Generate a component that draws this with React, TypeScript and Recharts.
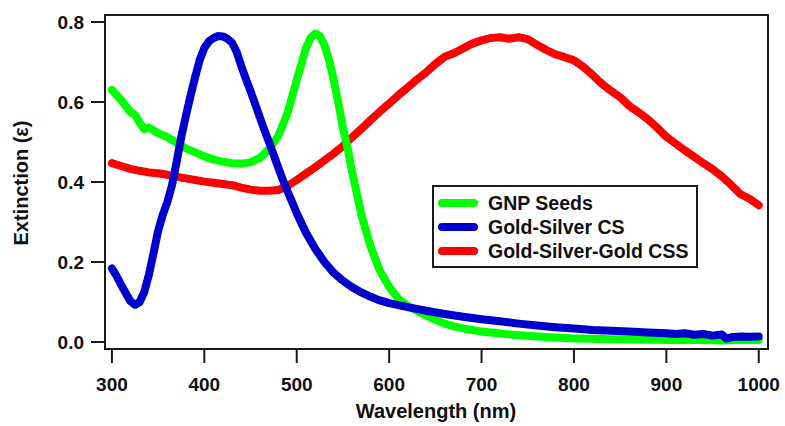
import React from "react";
import {
  LineChart,
  Line,
  XAxis,
  YAxis,
  Legend,
  ReferenceArea,
  Label,
} from "recharts";

// ---- data ----
const gnpWavelengths = [
  300, 310, 320, 325, 330, 335, 340, 350, 360, 370, 380, 390, 400, 410, 420, 430, 440, 450, 460, 470,
  480, 490, 500, 510, 515, 520, 525, 530, 535, 540, 545, 550, 555, 560, 570, 580, 590, 600, 610, 620,
  630, 640, 650, 660, 670, 680, 690, 700, 720, 740, 760, 780, 800, 820, 840, 860, 880, 900, 920, 940,
  960, 980, 1000,
];
const gnpValues = [
  0.63, 0.605, 0.575, 0.568, 0.548, 0.532, 0.536, 0.522, 0.512, 0.498, 0.484, 0.474, 0.464, 0.456, 0.451,
  0.447, 0.446, 0.449, 0.46, 0.482, 0.515, 0.572, 0.655, 0.735, 0.76, 0.771, 0.765, 0.742, 0.705, 0.655,
  0.598, 0.535, 0.485, 0.425, 0.318, 0.238, 0.178, 0.138, 0.108, 0.09, 0.078, 0.066, 0.056, 0.046, 0.039,
  0.034, 0.03, 0.026, 0.021, 0.017, 0.014, 0.011, 0.009, 0.008, 0.007, 0.006, 0.006, 0.005, 0.005, 0.005,
  0.004, 0.005, 0.005,
];

const csWavelengths = [
  300, 305, 310, 315, 320, 325, 330, 335, 340, 345, 350, 355, 360, 365, 370, 375, 380, 385, 390, 395,
  400, 405, 410, 415, 420, 425, 430, 435, 440, 445, 450, 455, 460, 465, 470, 475, 480, 485, 490, 495,
  500, 510, 520, 530, 540, 550, 560, 570, 580, 590, 600, 620, 640, 660, 680, 700, 720, 740, 760, 780,
  800, 820, 840, 860, 880, 900, 910, 920, 930, 940, 950, 960, 965, 970, 980, 990, 1000,
];
const csValues = [
  0.184, 0.165, 0.143, 0.122, 0.102, 0.093, 0.1, 0.125, 0.168, 0.222, 0.278, 0.318, 0.35, 0.392, 0.45,
  0.512, 0.565, 0.615, 0.662, 0.705, 0.735, 0.752, 0.76, 0.765, 0.764, 0.758, 0.748, 0.725, 0.69, 0.658,
  0.627, 0.595, 0.562, 0.53, 0.5, 0.468, 0.436, 0.405, 0.377, 0.35, 0.322, 0.273, 0.233, 0.2, 0.173,
  0.153, 0.137, 0.124, 0.113, 0.104, 0.097, 0.087, 0.078, 0.07, 0.063, 0.057, 0.052, 0.046, 0.041, 0.037,
  0.034, 0.03, 0.028, 0.026, 0.024, 0.022, 0.02, 0.022, 0.018, 0.02, 0.016, 0.019, 0.008, 0.012, 0.014,
  0.013, 0.014,
];

const cssWavelengths = [
  300, 310, 320, 330, 340, 350, 360, 370, 380, 390, 400, 410, 420, 430, 440, 450, 460, 470, 480, 490,
  500, 510, 520, 530, 540, 550, 560, 570, 580, 590, 600, 610, 620, 630, 640, 650, 660, 670, 680, 690,
  700, 710, 720, 730, 740, 750, 760, 770, 780, 790, 800, 810, 820, 830, 840, 850, 860, 870, 880, 890,
  900, 910, 920, 930, 940, 950, 960, 970, 980, 990, 1000,
];
const cssValues = [
  0.447, 0.44, 0.433, 0.428, 0.424, 0.422, 0.418, 0.413, 0.409, 0.405, 0.401, 0.398, 0.395, 0.392, 0.386,
  0.381, 0.378, 0.378, 0.38, 0.39, 0.405, 0.421, 0.437, 0.454, 0.471, 0.49, 0.512, 0.533, 0.555, 0.576,
  0.596, 0.617, 0.636, 0.656, 0.674, 0.695, 0.713, 0.722, 0.734, 0.746, 0.754, 0.76, 0.762, 0.758, 0.762,
  0.757, 0.743, 0.73, 0.719, 0.712, 0.704, 0.688, 0.668, 0.646, 0.628, 0.612, 0.59, 0.574, 0.557, 0.536,
  0.513, 0.496, 0.479, 0.463, 0.447, 0.432, 0.414, 0.393, 0.37, 0.358, 0.342,
];

const xTicks = [300, 400, 500, 600, 700, 800, 900, 1000];
const yTicks = [0, 0.2, 0.4, 0.6, 0.8];
const xDomain = [292.5, 1010];
const yDomain = [-0.0175, 0.8175];

const series = [
  { name: "GNP Seeds", color: "#00ff00" },
  { name: "Gold-Silver CS", color: "#0000cc" },
  { name: "Gold-Silver-Gold CSS", color: "#ff0000" },
];

const zip = (xs: number[], ys: number[]) => xs.map((x, i) => ({ x, y: ys[i] }));
const gnpData = zip(gnpWavelengths, gnpValues);
const csData = zip(csWavelengths, csValues);
const cssData = zip(cssWavelengths, cssValues);

const FONT = '"Liberation Sans", Arial, Helvetica, sans-serif';
const INK = "#1a1a1a";

const LegendBox = () => (
  <div
    style={{
      border: `2px solid ${INK}`,
      background: "#fff",
      boxSizing: "border-box",
      width: 266,
      height: 83,
      padding: "4px 0 0 4px",
      fontFamily: FONT,
      fontWeight: 700,
      fontSize: 19.5,
      color: "#111",
    }}
  >
    {series.map((s) => (
      <div key={s.name} style={{ display: "flex", alignItems: "center", height: 24 }}>
        <span
          style={{
            display: "inline-block",
            width: 40,
            height: 8,
            borderRadius: 4,
            background: s.color,
            marginRight: 10,
          }}
        />
        <span>{s.name}</span>
      </div>
    ))}
  </div>
);

export default function App() {
  return (
    <div style={{ position: "absolute", left: 0, top: 0, background: "#fff" }}>
      <LineChart
        width={785}
        height={426}
        margin={{ top: 15, right: 17, left: 0, bottom: 0 }}
        style={{ fontFamily: FONT }}
      >
        <XAxis
          dataKey="x"
          type="number"
          domain={xDomain}
          ticks={xTicks}
          allowDataOverflow
          height={77}
          tickSize={14}
          tickMargin={15}
          axisLine={{ stroke: INK, strokeWidth: 2 }}
          tickLine={{ stroke: INK, strokeWidth: 2 }}
          tick={{ fill: "#111", fontSize: 19, fontWeight: 700, fontFamily: FONT }}
        >
          <Label
            content={() => (
              <text
                x={436}
                y={418}
                textAnchor="middle"
                fill="#111"
                fontSize={20}
                fontWeight={700}
                fontFamily={FONT}
              >
                Wavelength (nm)
              </text>
            )}
          />
        </XAxis>
        <YAxis
          type="number"
          domain={yDomain}
          ticks={yTicks}
          allowDataOverflow
          width={105}
          tickSize={14}
          tickMargin={7}
          tickFormatter={(v: number) => v.toFixed(1)}
          axisLine={{ stroke: INK, strokeWidth: 2 }}
          tickLine={{ stroke: INK, strokeWidth: 2 }}
          tick={{ fill: "#111", fontSize: 19, fontWeight: 700, fontFamily: FONT }}
        >
          <Label
            content={() => (
              <text
                x={28}
                y={183}
                transform="rotate(-90 28 183)"
                textAnchor="middle"
                fill="#111"
                fontSize={20}
                fontWeight={700}
                fontFamily={FONT}
              >
                Extinction (ε)
              </text>
            )}
          />
        </YAxis>
        <ReferenceArea
          x1={xDomain[0]}
          x2={xDomain[1]}
          y1={yDomain[0]}
          y2={yDomain[1]}
          fill="none"
          fillOpacity={0}
          stroke={INK}
          strokeWidth={2}
          ifOverflow="visible"
        />
        <Line
          data={cssData}
          dataKey="y"
          name={series[2].name}
          stroke={series[2].color}
          strokeWidth={8}
          strokeLinecap="round"
          strokeLinejoin="round"
          dot={false}
          activeDot={false}
          isAnimationActive={false}
          type="linear"
        />
        <Line
          data={gnpData}
          dataKey="y"
          name={series[0].name}
          stroke={series[0].color}
          strokeWidth={8}
          strokeLinecap="round"
          strokeLinejoin="round"
          dot={false}
          activeDot={false}
          isAnimationActive={false}
          type="linear"
        />
        <Line
          data={csData}
          dataKey="y"
          name={series[1].name}
          stroke={series[1].color}
          strokeWidth={8}
          strokeLinecap="round"
          strokeLinejoin="round"
          dot={false}
          activeDot={false}
          isAnimationActive={false}
          type="linear"
        />
        <Legend
          layout="vertical"
          align="center"
          verticalAlign="middle"
          content={() => <LegendBox />}
          wrapperStyle={{ left: 432, top: 185, width: 266, height: 83 }}
        />
      </LineChart>
    </div>
  );
}
